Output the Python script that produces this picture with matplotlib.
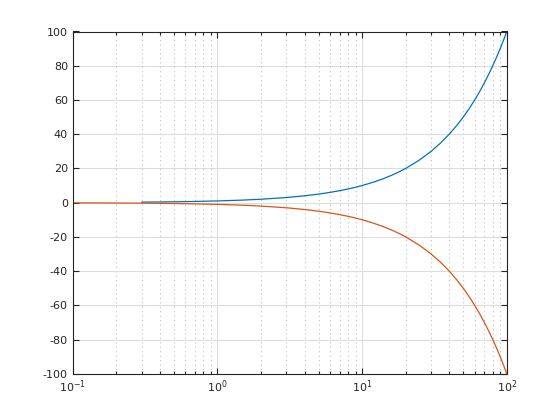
import numpy as np
import matplotlib.pyplot as plt

plt.rcParams['font.family'] = 'DejaVu Sans'
plt.rcParams['mathtext.default'] = 'regular'

# values (x on log scale)
x_vals = [0.1, 0.2, 0.3, 0.5, 0.7, 1, 1.5, 2, 3, 4, 5, 6, 7, 8, 9, 10, 12, 14, 16, 18,
          20, 25, 30, 35, 40, 45, 50, 55, 60, 65, 70, 75, 80, 85, 90, 95, 100]
upper_y = [np.nan, np.nan, 0.3, 0.5, 0.7, 1, 1.5, 2, 3, 4, 5, 6, 7, 8, 9, 10, 12, 14, 16, 18,
           20, 25, 30, 35, 40, 45, 50, 55, 60, 65, 70, 75, 80, 85, 90, 95, 100]
lower_y = [-0.1, -0.2, -0.3, -0.5, -0.7, -1, -1.5, -2, -3, -4, -5, -6, -7, -8, -9, -10, -12, -14, -16, -18,
           -20, -25, -30, -35, -40, -45, -50, -55, -60, -65, -70, -75, -80, -85, -90, -95, -100]
y_ticks = [-100, -80, -60, -40, -20, 0, 20, 40, 60, 80, 100]
x_ticks = [0.1, 1, 10, 100]
x_labels = ['$10^{-1}$', '$10^{0}$', '$10^{1}$', '$10^{2}$']

fig = plt.figure(figsize=(5.6, 4.2), dpi=100)
ax = fig.add_axes([0.13, 0.11, 0.775, 0.815])

ax.plot(x_vals, upper_y, color='#0072BD', lw=0.9)
ax.plot(x_vals, lower_y, color='#D95319', lw=0.9)

ax.set_xscale('log')
ax.set_xlim(0.1, 100)
ax.set_ylim(-100, 100)
ax.set_yticks(y_ticks)
ax.set_yticklabels([str(v) for v in y_ticks])
ax.set_xticks(x_ticks)
ax.set_xticklabels(x_labels)

ax.grid(True, which='major', color='#dcdcdc', lw=0.8, ls='-')
ax.grid(True, which='minor', axis='x', color='#c0c0c0', lw=0.8, ls=(0, (1, 3)))
ax.set_axisbelow(True)

ax.tick_params(which='both', direction='in', top=True, right=True,
               colors='#262626', labelsize=8, width=0.8)
ax.tick_params(which='major', length=4)
ax.tick_params(which='minor', length=2.5)
for s in ax.spines.values():
    s.set_color('#262626')
    s.set_linewidth(0.8)

fig.savefig('out.png', dpi=100)
